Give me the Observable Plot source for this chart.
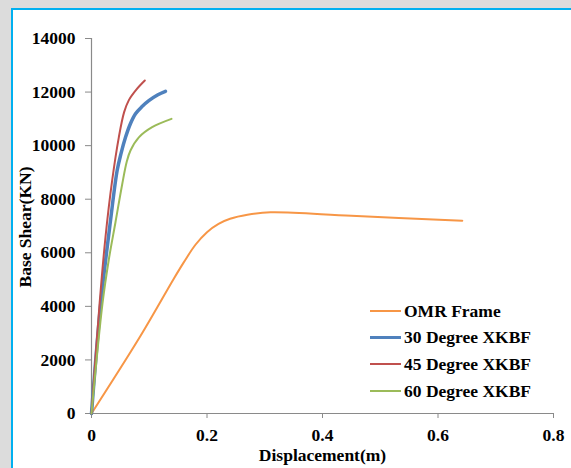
<!DOCTYPE html>
<html>
<head>
<meta charset="utf-8">
<script src="https://cdn.jsdelivr.net/npm/d3@7"></script>
<script src="https://cdn.jsdelivr.net/npm/@observablehq/plot@0.6"></script>
<style>
  html, body { margin: 0; padding: 0; }
  body { width: 571px; height: 468px; background: #dcdcdc; position: relative; overflow: hidden;
         font-family: "Liberation Serif", "Times New Roman", serif; }
  #panel { position: absolute; left: 11px; top: 8px; right: -10px; bottom: -10px; background: #fff;
           border-left: 2px solid #00b0f0; border-top: 2px solid #00b0f0; }
  #chart { position: absolute; left: 0; top: 0; }
  #chart svg { background: transparent; }
  #legend { position: absolute; left: 370px; top: 298px; font-weight: bold; font-size: 17.5px; color: #000; }
  .row { height: 26.6px; display: flex; align-items: center; white-space: nowrap; }
  .sw { width: 31px; margin-right: 3px; }
</style>
</head>
<body>
<div id="panel"></div>
<div id="chart"></div>
<div id="legend"></div>
<script>
// Series names and colours
const seriesNames = ["OMR Frame", "30 Degree XKBF", "45 Degree XKBF", "60 Degree XKBF"];
const seriesColors = ["#F79646", "#4F81BD", "#C0504D", "#9BBB59"];

// Displacement (m) and base shear (KN)
const omrDisp   = [0, 0.085, 0.1425, 0.160, 0.180, 0.200, 0.220, 0.240, 0.270, 0.310, 0.450, 0.642];
const omrShear  = [0, 2900, 5030, 5650, 6300, 6770, 7080, 7270, 7420, 7510, 7380, 7200];

const deg30Disp  = [0, 0.016, 0.0329, 0.0444, 0.0514, 0.0589, 0.067, 0.0762, 0.087, 0.0993, 0.115, 0.128];
const deg30Shear = [0, 4100, 7200, 9070, 9730, 10310, 10800, 11190, 11450, 11680, 11900, 12030];

const deg45Disp  = [0, 0.014, 0.0242, 0.0358, 0.0473, 0.0565, 0.0647, 0.078, 0.0923];
const deg45Shear = [0, 4100, 6580, 8700, 10310, 11250, 11700, 12100, 12430];

const deg60Disp  = [0, 0.019, 0.030, 0.0416, 0.0531, 0.061, 0.0675, 0.082, 0.105, 0.1385];
const deg60Shear = [0, 4100, 5750, 7150, 8550, 9400, 9820, 10310, 10690, 11000];

// Axis ticks
const xTicks = [0, 0.2, 0.4, 0.6, 0.8];
const yTicks = [0, 2000, 4000, 6000, 8000, 10000, 12000, 14000];

const dispArrays = [omrDisp, deg30Disp, deg45Disp, deg60Disp];
const shearArrays = [omrShear, deg30Shear, deg45Shear, deg60Shear];
const widths = [2, 3.5, 2, 2];

const rows = seriesNames.map((s, i) => dispArrays[i].map((d, j) => ({series: s, disp: d, shear: shearArrays[i][j]})));

const chart = Plot.plot({
  width: 571,
  height: 468,
  marginLeft: 91,
  marginRight: 18,
  marginTop: 38,
  marginBottom: 55,
  style: {fontFamily: '"Liberation Serif", "Times New Roman", serif', fontWeight: "bold", fontSize: "17.5px", background: "transparent", color: "#000"},
  x: {domain: [0, 0.8]},
  y: {domain: [0, 14000]},
  marks: [
    Plot.ruleX([0], {stroke: "#8a8a8a", strokeWidth: 1.2}),
    Plot.ruleY([0], {stroke: "#8a8a8a", strokeWidth: 1.2}),
    Plot.axisX({ticks: xTicks, tickSize: 5, tickPadding: 10, stroke: "#8a8a8a", fill: "#000",
                tickFormat: d => d === 0 ? "0" : d.toFixed(1), label: null}),
    Plot.axisY({ticks: yTicks, tickSize: 6, tickPadding: 10, stroke: "#8a8a8a", fill: "#000",
                tickFormat: d3.format("d"), label: null}),
    ...rows.map((r, i) => Plot.line(r, {x: "disp", y: "shear", stroke: seriesColors[i], strokeWidth: widths[i], curve: "catmull-rom"})),
    Plot.text(["Displacement(m)"], {frameAnchor: "bottom", dy: 42, lineAnchor: "middle", textAnchor: "middle", fill: "#000"}),
    Plot.text(["Base Shear(KN)"], {frameAnchor: "left", dx: -66, dy: 1, rotate: -90, textAnchor: "middle", lineAnchor: "middle", fill: "#000"})
  ]
});
document.getElementById("chart").appendChild(chart);

const legend = document.getElementById("legend");
seriesNames.forEach((s, i) => {
  const row = document.createElement("div");
  row.className = "row";
  const sw = document.createElement("span");
  sw.className = "sw";
  sw.style.borderTop = `${i === 1 ? 3.5 : 2}px solid ${seriesColors[i]}`;
  row.appendChild(sw);
  const t = document.createElement("span");
  t.textContent = s;
  row.appendChild(t);
  legend.appendChild(row);
});
</script>
</body>
</html>
